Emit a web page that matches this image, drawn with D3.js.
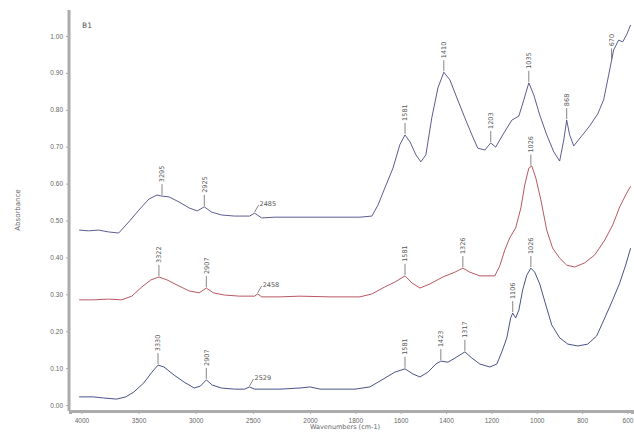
<!DOCTYPE html>
<html>
<head>
<meta charset="utf-8">
<script src="https://cdn.jsdelivr.net/npm/d3@7"></script>
<style>
  html, body { margin: 0; padding: 0; background: #fff; }
  svg { display: block; font-family: "DejaVu Sans", Arial, sans-serif; }
</style>
</head>
<body>
<svg id="chart" width="634" height="433"></svg>
<script>
// FTIR spectra of three samples, stacked (absorbance vs wavenumber, cm-1)
const topNu = [4020,3938,3850,3762,3674,3586,3498,3410,3339,3295,3233,3145,3057,2987,2925,2863,2775,2661,2529,2485,2423,2308,2088,1912,1780,1727,1700,1670,1634,1604,1581,1559,1533,1511,1489,1463,1436,1410,1383,1352,1317,1286,1260,1229,1203,1181,1150,1110,1079,1057,1035,1013,987,956,925,899,881,868,855,837,802,767,731,705,683,661,639,621,604,586];
const topAbs = [0.474,0.472,0.474,0.469,0.466,0.496,0.528,0.558,0.569,0.566,0.564,0.550,0.534,0.526,0.537,0.523,0.515,0.512,0.512,0.520,0.507,0.509,0.509,0.509,0.509,0.512,0.542,0.588,0.642,0.705,0.732,0.713,0.678,0.659,0.678,0.778,0.859,0.902,0.881,0.832,0.778,0.732,0.696,0.691,0.710,0.699,0.732,0.772,0.783,0.827,0.873,0.840,0.786,0.732,0.686,0.661,0.718,0.772,0.732,0.702,0.729,0.756,0.789,0.827,0.894,0.962,0.989,0.984,1.003,1.030];

const midNu = [4020,3894,3762,3648,3559,3471,3392,3322,3251,3163,3057,2969,2907,2846,2749,2617,2485,2458,2423,2264,2088,1912,1780,1727,1670,1626,1581,1551,1515,1471,1414,1361,1326,1295,1251,1185,1163,1141,1119,1093,1070,1053,1035,1022,1004,982,956,930,899,868,833,789,744,700,665,634,608,586];
const midAbs = [0.285,0.285,0.287,0.285,0.295,0.320,0.339,0.347,0.339,0.325,0.309,0.304,0.317,0.304,0.298,0.295,0.295,0.301,0.293,0.293,0.295,0.293,0.293,0.301,0.320,0.333,0.350,0.331,0.317,0.328,0.347,0.360,0.371,0.360,0.350,0.350,0.377,0.420,0.453,0.480,0.534,0.596,0.642,0.648,0.615,0.556,0.474,0.425,0.398,0.379,0.374,0.385,0.407,0.447,0.488,0.537,0.569,0.593];

const lowNu = [4020,3894,3806,3692,3612,3542,3454,3383,3330,3278,3189,3101,3013,2960,2907,2855,2775,2661,2573,2529,2485,2264,2088,2000,1956,1802,1736,1683,1626,1581,1546,1515,1480,1445,1423,1392,1361,1317,1286,1251,1207,1176,1154,1132,1115,1106,1093,1079,1062,1044,1026,1009,987,960,934,899,863,819,775,736,700,665,634,608,586];
const lowAbs = [0.022,0.022,0.019,0.016,0.022,0.035,0.060,0.089,0.108,0.103,0.081,0.062,0.046,0.051,0.068,0.054,0.046,0.043,0.043,0.049,0.043,0.043,0.046,0.049,0.043,0.043,0.049,0.068,0.089,0.098,0.084,0.076,0.089,0.111,0.119,0.116,0.127,0.144,0.127,0.111,0.103,0.111,0.144,0.182,0.236,0.249,0.236,0.257,0.312,0.352,0.371,0.360,0.328,0.271,0.217,0.182,0.165,0.160,0.165,0.187,0.236,0.285,0.331,0.379,0.425];

// Peak annotations (band positions, cm-1); "weak" ones use a slanted leader
const topPeaks = [3295, 2925, 1581, 1410, 1203, 1035, 868, 670];
const topWeak = [2485];
const midPeaks = [3322, 2907, 1581, 1326, 1026];
const midWeak = [2458];
const lowPeaks = [3330, 2907, 1581, 1423, 1317, 1106, 1026];
const lowWeak = [2529];

const xTicks = [4000, 3500, 3000, 2500, 2000, 1800, 1600, 1400, 1200, 1000, 800, 600];
const yTicks = [0, 0.1, 0.2, 0.3, 0.4, 0.5, 0.6, 0.7, 0.8, 0.9, 1.0];
const panelLabel = "B1";
const xTitle = "Wavenumbers (cm-1)";
const yTitle = "Absorbance";

const svg = d3.select("#chart");

// wavenumber axis is expanded 2x below 2000 cm-1
const x = d3.scaleLinear().domain([4100, 2000, 580]).range([70, 310, 632]);
const y = d3.scaleLinear().domain([0, 1]).range([405, 36]);

const axisColor = "#acacac";
const textColor = "#666";

// axes
const xAxis = svg.append("g").attr("transform", "translate(0,411)")
  .call(d3.axisBottom(x).tickValues(xTicks).tickFormat(d3.format("d")).tickSize(3));
const minor = d3.range(3900, 2000, -100).concat(d3.range(1950, 580, -50));
svg.append("g").attr("transform", "translate(0,411)")
  .call(d3.axisBottom(x).tickValues(minor).tickFormat("").tickSize(2))
  .call(g => g.select(".domain").remove())
  .selectAll("line").attr("stroke", axisColor);
xAxis.select(".domain").attr("stroke", axisColor).attr("stroke-width", 3);
xAxis.selectAll("line").attr("stroke", axisColor);
xAxis.selectAll("text").attr("fill", textColor).attr("font-size", 6.5).attr("dy", "0.9em");

const yAxis = svg.append("g").attr("transform", "translate(69,0)")
  .call(d3.axisLeft(y).tickValues(yTicks).tickFormat(d3.format(".2f")).tickSize(3));
yAxis.select(".domain").attr("stroke", axisColor).attr("stroke-width", 3)
  .attr("d", "M0,10V411");
yAxis.selectAll("line").attr("stroke", axisColor);
yAxis.selectAll("text").attr("fill", textColor).attr("font-size", 6.5);

svg.append("text").attr("transform", "translate(20,210) rotate(-90)")
  .attr("text-anchor", "middle").attr("font-size", 7).attr("fill", textColor).text(yTitle);
svg.append("text").attr("x", 345).attr("y", 429).attr("text-anchor", "middle")
  .attr("font-size", 6.5).attr("fill", textColor).text(xTitle);
svg.append("text").attr("x", 82).attr("y", 28).attr("font-size", 7.5)
  .attr("fill", "#555").text(panelLabel);

const line = d3.line().x(d => x(d[0])).y(d => y(d[1]));

function absAt(nu, nus, abs) {
  for (let i = 0; i < nus.length - 1; i++) {
    if (nus[i] >= nu && nus[i + 1] <= nu) {
      const t = (nus[i] - nu) / (nus[i] - nus[i + 1]);
      return abs[i] + t * (abs[i + 1] - abs[i]);
    }
  }
  return abs[abs.length - 1];
}

function drawSpectrum(nus, abs, color, peaks, weak) {
  svg.append("path").datum(d3.zip(nus, abs))
    .attr("fill", "none").attr("stroke", color).attr("stroke-width", 0.9)
    .attr("stroke-linejoin", "round").attr("d", line);

  peaks.forEach(p => {
    const px = x(p), py = y(absAt(p, nus, abs));
    svg.append("line").attr("x1", px).attr("x2", px)
      .attr("y1", py - 1).attr("y2", py - 12)
      .attr("stroke", "#666").attr("stroke-width", 0.8);
    svg.append("text").attr("transform", `translate(${px + 2.3},${py - 14}) rotate(-90)`)
      .attr("font-size", 6.5).attr("fill", "#555").text(d3.format("d")(p));
  });

  weak.forEach(p => {
    const px = x(p), py = y(absAt(p, nus, abs));
    svg.append("line").attr("x1", px).attr("x2", px + 4)
      .attr("y1", py - 1).attr("y2", py - 8)
      .attr("stroke", "#666").attr("stroke-width", 0.8);
    svg.append("text").attr("x", px + 5).attr("y", py - 7)
      .attr("font-size", 6.5).attr("fill", "#555").text(d3.format("d")(p));
  });
}

drawSpectrum(topNu, topAbs, "#4a4a86", topPeaks, topWeak);
drawSpectrum(midNu, midAbs, "#b04450", midPeaks, midWeak);
drawSpectrum(lowNu, lowAbs, "#33407a", lowPeaks, lowWeak);
</script>
</body>
</html>
